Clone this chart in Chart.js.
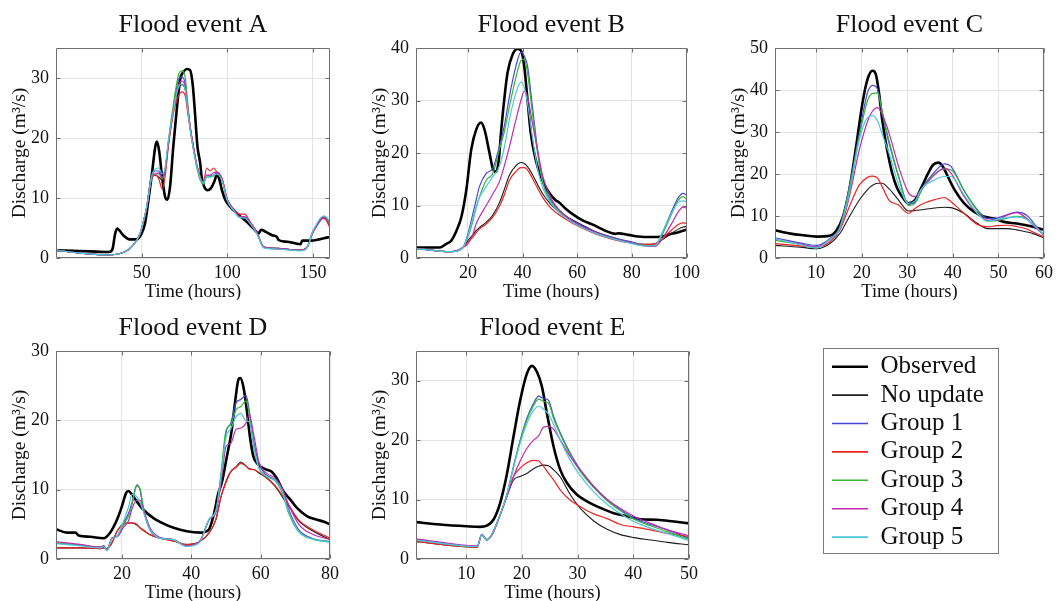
<!DOCTYPE html>
<html>
<head>
<meta charset="utf-8">
<script src="https://cdn.jsdelivr.net/npm/chart.js"></script>
<style>
  html, body { margin: 0; padding: 0; background: #ffffff; }
  body { width: 1057px; height: 601px; position: relative; overflow: hidden; }
  canvas { position: absolute; }
</style>
</head>
<body>
<canvas id="cA" width="345" height="300" style="left:0px;top:0px"></canvas>
<canvas id="cB" width="344" height="300" style="left:360px;top:0px"></canvas>
<canvas id="cC" width="338" height="300" style="left:719px;top:0px"></canvas>
<canvas id="cD" width="345" height="298" style="left:0px;top:303px"></canvas>
<canvas id="cE" width="344" height="298" style="left:360px;top:303px"></canvas>
<canvas id="cL" width="176" height="206" style="left:823px;top:348px"></canvas>
<script>
// ---------------- series labels ----------------
const seriesNames = ['Observed', 'No update', 'Group 1', 'Group 2', 'Group 3', 'Group 4', 'Group 5'];
const panelTitles = ['Flood event A', 'Flood event B', 'Flood event C', 'Flood event D', 'Flood event E'];
const xAxisTitle = 'Time (hours)';
const yAxisTitle = 'Discharge (m³/s)';

// ---------------- tick labels ----------------
const xTicksA = [50, 100, 150];
const yTicksA = [0, 10, 20, 30];
const xTicksB = [20, 40, 60, 80, 100];
const yTicksB = [0, 10, 20, 30, 40];
const xTicksC = [10, 20, 30, 40, 50, 60];
const yTicksC = [0, 10, 20, 30, 40, 50];
const xTicksD = [20, 40, 60, 80];
const yTicksD = [0, 10, 20, 30];
const xTicksE = [10, 20, 30, 40, 50];
const yTicksE = [0, 10, 20, 30];

// ---------------- Flood event A ----------------
const tA_obs = [0,10,20,31,33,34.5,35.7,37,39.3,43,47,50,52,54,56,58,59,60.4,61.7,63.7,65,66.6,68.5,70.5,72.5,74.4,76.4,78.3,79.9,81.3,82.6,84.2,85,86.5,88.5,90.4,92.4,94,95.5,96.9,98.8,101.8,105.7,111.5,115.4,118.4,119.7,122.3,126.2,129,130,135,138.9,142.8,143.8,148.6,153.5,156.4,160];
const obsA = [1.3,1.2,1.1,1.0,1.5,4.0,4.9,4.6,3.8,3.1,3.1,4.1,5.8,9.7,14,18.6,19.4,17.5,14.1,10.2,9.7,11.9,18.6,24.7,29.8,31,31.5,31.3,28.7,23.6,18.6,15.8,13.6,11.9,11.3,11.6,12.7,13.9,13,11.3,9.7,8.5,7.4,6.0,4.9,4.1,4.7,4.4,3.8,3.5,3.0,2.7,2.5,2.3,2.9,2.9,3.1,3.3,3.5];
const tA_sim = [0,15,30,40,45,49,51,53,56,58,60,62,63.7,65.6,68.5,71.5,73.5,75.5,77,78.3,80.3,82.2,84.2,86,88,90,92,94,97,100,103.7,107.6,110,113.5,117.4,121.3,129,142.8,146.7,149.6,152.5,154.5,156.4,158,160];
const nuA = [1.3,0.8,0.5,1.0,2.1,4.0,6.0,8.5,13.5,13.8,13.5,13.0,14.5,19.0,24.3,28.2,28.9,28,24.5,21.8,18.3,15.4,13.4,12.5,13.6,13.6,13.8,14.1,13,9.7,8.0,6.8,6.8,5.8,4.1,1.8,1.6,1.3,1.8,4.1,5.5,6.3,6.7,6.5,5.4];
const g1A = [1.3,0.8,0.5,1.0,2.1,4.0,6.0,8.5,13.6,14.5,14.5,13.5,14.7,19.2,24.7,29.8,30.2,29,25,22,18.5,15.5,13.5,12.5,13.7,13.6,13.8,14.1,13,9.7,8.0,6.8,6.8,5.8,4.1,1.8,1.6,1.3,1.8,4.1,5.5,6.3,6.8,6.5,5.5];
const g2A = [1.3,0.8,0.5,1.0,2.1,4.0,6.0,8.5,13.5,13.8,13.2,11.5,13.5,18.5,24,27,27.7,27,24,21.5,18,15.5,13.5,12.5,15.0,14.5,15.0,14.3,13.2,9.8,8.2,7.3,7.3,6.0,4.2,1.9,1.5,1.3,1.8,4.0,5.6,6.5,6.6,6.2,5.0];
const g3A = [1.3,0.8,0.5,1.0,2.1,4.0,6.0,8.5,13.6,14.0,14.0,13.2,14.5,19.5,25.5,30.5,31.2,30,25.5,22,18.2,15,13,12.3,13.5,13.5,13.7,14.0,13,9.6,8.0,6.8,6.8,5.8,4.1,1.8,1.6,1.3,1.8,4.2,5.7,6.6,7.0,6.6,5.6];
const g4A = [1.3,0.8,0.5,1.0,2.1,4.0,6.0,8.5,13.6,14.0,14.2,13.4,14.6,19.0,24.5,28.8,29.5,28.5,25,22,18.5,15.5,13.5,12.6,13.8,13.8,14.2,14.3,13.2,9.8,8.1,6.9,6.9,5.9,4.2,1.8,1.6,1.3,1.8,4.0,5.5,6.4,6.8,6.7,5.8];
const g5A = [1.3,0.8,0.5,1.0,2.1,4.0,6.0,8.6,13.8,14.8,15.0,14.0,15.0,19.5,24.5,28.5,29.0,28,24.5,21.5,18,15.3,13.3,12.5,13.6,13.5,13.8,14.0,12.9,9.6,7.9,6.7,6.7,5.7,4.0,1.7,1.5,1.2,1.7,4.2,5.8,6.7,7.0,6.8,6.0];

// ---------------- Flood event B ----------------
const tB_obs = [1,9.7,12.1,13.9,15.8,17.6,19.4,21.2,23,24.8,26.1,27.9,29.1,30.3,31.3,32.1,33.3,34.5,36.4,38.2,39.4,40.6,41.8,43,44.8,46.7,49.1,52.1,53.3,55.8,58.2,61.8,65.5,70.3,73.9,75.2,78.8,82.4,87.3,90.9,94.5,97,100];
const obsB = [2.0,2.0,2.7,3.3,5.2,7.8,12.9,20.6,24.4,25.8,24.4,20,17.1,16.4,18.7,23.8,30.2,35.3,38.8,39.8,39.5,36.6,30.2,23.8,18.7,15.5,12.9,11,10.6,9.4,8.4,7.2,6.4,5.2,4.6,4.7,4.4,4.1,4.0,4.1,4.6,4.9,5.4];
const tB_sim = [1,14,18.2,20,21.8,23,24.2,26.7,29.1,31.5,33.3,35.2,37.6,39.4,40.6,41.8,43.6,45.5,47.3,49.7,52.1,55.8,60.6,66.7,72.7,78.8,84.8,88.5,90.9,94.5,97,98.8,100];
const nuB = [1.8,1.2,2.0,3.3,4.4,5.2,5.8,6.8,8.2,10.5,13,15.8,17.6,18.2,18,17.4,15.9,14,12.3,10.6,9.3,8.0,6.6,5.0,3.9,3.1,2.6,2.7,3.4,4.7,5.5,5.9,6.0];
const g1B = [1.8,1.2,2.0,4.6,8.4,11,13.6,16.1,17.1,21.2,25.1,30.8,36.6,39.2,38.5,36.6,28.9,20.6,14.8,11.6,9.8,8.0,6.4,5.0,4.0,3.2,2.5,2.4,4.5,8.8,11.5,12.3,12.0];
const g2B = [1.8,1.2,2.0,3.0,4.0,4.8,5.5,6.5,7.8,9.8,12,14.8,16.5,17.2,17.2,16.8,15.2,13.3,11.6,9.9,8.7,7.4,6.0,4.6,3.6,2.9,2.6,2.7,3.6,5.3,6.4,6.7,6.6];
const g3B = [1.8,1.2,2.0,4.0,7.0,9.5,11.6,14.8,16.1,20.6,24,28.9,34.5,37.6,37.9,35.3,27.6,20,14.5,11.3,9.5,7.8,6.2,4.8,3.8,3.0,2.4,2.3,4.2,8.3,11,11.7,11.2];
const g4B = [1.8,1.2,2.0,2.7,4.5,6.5,7.8,10,12.2,14.5,17.5,21.2,26.4,30,31.8,30.8,25.7,20.5,15.8,12.2,10,8.0,6.3,4.9,3.8,3.0,2.3,2.2,3.5,6.5,8.8,9.7,9.5];
const g5B = [1.8,1.2,2.0,4.3,7.5,9.7,11.5,13.6,15.5,17.5,21,26.4,31.5,33.5,32.5,29.5,23,17,13.5,11,9.3,7.6,6.1,4.7,3.7,2.9,2.3,2.3,4.6,8.5,10.6,10.9,10.7];

// ---------------- Flood event C ----------------
const tC_obs = [1,4.4,7.3,10.1,13,14.5,15.9,17.3,18.8,20.2,21.3,22.4,23.1,23.8,24.5,25.6,26.7,27.8,28.9,30.3,31.7,33.2,34.6,35.7,36.8,37.8,38.9,40.4,42.5,44.7,46.8,49,51.2,54,56.9,60];
const obsC = [6.6,5.8,5.4,5.1,5.3,6.6,9.8,16.2,26.6,37,42.6,44.6,43.8,39.4,33,25.8,20.2,16.6,14.6,13,13.8,17,20.2,22.2,22.7,21.8,19.4,16.2,13,11,9.9,9.4,8.6,8.2,7.6,6.7];
const tC_sim = [1,6.5,10.1,13,15.2,17.3,19.5,21.3,22.4,23.5,24.5,26,28.1,30.3,31.7,33.2,36,38.2,39.6,42.5,45.4,47.6,49.7,51.9,54,56.2,57.6,60];
const nuC = [3.0,2.6,2.2,3.4,5.8,9.8,13.8,16.3,17.3,17.8,17.8,16.5,13.8,11.2,11.3,11.5,11.9,12.1,12,10.6,8.2,7.0,7.0,7.0,6.7,6.2,5.8,4.8];
const g1C = [4.8,3.6,3.0,4.6,7.4,17,29.8,39.4,41.1,40.2,34.6,27.4,19.4,12.8,13.2,16.5,20.5,22.4,21.8,16,11.5,9.4,9.5,10.3,10.9,10.2,8.5,5.2];
const g2C = [3.4,2.9,2.6,3.8,6.6,12.2,17.4,19.2,19.5,19.0,17,13.8,12.6,10.6,11.8,12.8,13.9,14.4,13.4,10.6,8.0,7.4,7.7,7.8,7.5,6.9,6.2,5.0];
const g3C = [4.2,3.3,2.6,4.4,7.2,16.5,29,37.5,39.2,39.3,35,28,19.5,12.5,13.0,16.2,20,21.2,21,16,11.2,8.8,8.9,9.5,9.9,9.4,8.0,5.6];
const g4C = [4.6,3.4,2.6,4.4,6.8,14.6,25.8,32.5,35,35.8,34.2,29.8,21.8,15.5,14.6,16.5,19.8,21.4,20.2,14.6,10.6,9,9,10.2,10.8,9.4,7.8,5.4];
const g5C = [4.6,3.2,2.4,4.4,7.0,15.4,28.2,33.4,33.9,32.6,29.5,25,17.5,13,13.6,16.6,18.6,19.4,19.4,15,10.6,8.8,9.2,9.6,9.8,9.2,8.0,5.4];

// ---------------- Flood event D ----------------
const tD_obs = [1,4.2,6.6,7.5,10.9,14.7,16.6,18.6,20,21.2,21.9,22.9,24.3,26.2,29.1,32,34.9,38.7,42.6,45,46.4,47.8,48.8,50.2,51.7,52.6,53.6,54.1,55,56,56.9,57.9,59.3,61.7,63.2,64.6,66.5,68.5,70.4,73.3,76.1,78.1,80];
const obsD = [4.3,3.8,3.8,3.4,3.2,3.0,3.8,5.7,7.6,9.5,9.8,9.3,8.3,7.1,5.9,5.1,4.5,4.0,3.8,4.2,6.2,9.5,11,14.6,18.7,22.5,25.9,26.1,24.9,21.5,17.7,14.8,13.6,12.9,12.6,11.7,9.8,8.6,7.4,6.2,5.7,5.4,5.0];
const tD_sim = [1,8,13.8,14.7,15.7,17.1,18.6,20.5,21.9,22.9,24.3,25.2,26.2,28.1,31,34.8,38.6,42.4,45.2,47.1,48.6,50,51.4,52.9,54.3,55.8,56.7,58.1,59.5,61.4,64.3,66.2,68.1,71,74.8,80];
const nuD = [1.6,1.6,1.5,1.6,1.5,2.3,4.0,5.1,5.2,5.2,4.9,4.5,4.1,3.5,3.0,2.6,2.1,2.5,3.8,5.7,9,11.2,12.6,13.3,14.0,13.4,13.0,12.9,12.4,11.8,10.4,9.0,7.6,5.5,4.1,2.8];
const g1D = [2.3,2.0,1.7,1.9,1.3,3.0,3.3,5.2,6.6,8.1,10.7,10,7.1,4.2,3.0,2.8,1.9,2.5,5.7,6.9,11.9,18.2,19.6,22.5,23,23.6,21.5,16.7,13.8,12.2,11.4,10,7.1,4.2,3.0,2.5];
const g2D = [1.6,1.6,1.5,1.6,1.5,2.3,4.0,5.0,5.2,5.2,5.0,4.5,4.2,3.5,3.0,2.6,2.1,2.5,3.8,5.7,9,11,12.6,13.2,13.8,13.4,13.0,12.9,12.5,11.9,10.5,9.2,7.8,5.6,4.3,3.0];
const g3D = [2.3,2.0,1.7,1.9,1.3,3.0,3.3,5.0,6.2,7.8,10.5,10.2,7.5,4.3,3.0,2.8,1.9,2.5,5.7,6.9,12.5,18.5,19.4,21.5,22,22.8,21,16,13.2,12,11.2,9.6,6.6,3.9,2.9,2.5];
const g4D = [2.5,2.1,1.7,1.9,1.3,3.0,3.2,4.6,5.5,7.2,8.5,8.5,7.1,4.5,3.1,2.8,1.9,2.5,5.7,6.7,11,16.2,16.7,18.7,18.9,19.6,20.8,17.7,14,12.5,11.6,10.2,7.8,5,3.6,2.8];
const g5D = [2.2,1.9,1.6,1.8,1.2,2.9,3.3,5.5,7.5,9.3,9.0,8.2,6.8,4.3,3.0,2.8,1.8,2.4,5.8,7.0,12,17.5,18.8,20.5,21,19.9,19.8,16,13,12,11.3,9.8,6.8,4.0,2.9,2.4];

// ---------------- Flood event E ----------------
const tE_obs = [1,5.3,10.1,12.5,13.7,14.9,16.1,17.3,18.5,19.7,20.9,21.8,22.7,23.6,24.5,25.7,26.9,28.1,29.9,31.7,34.1,36.5,38.9,41.3,44.3,47.3,50];
const obsE = [6.2,5.8,5.5,5.4,5.6,6.6,9.4,14.2,20.6,26.7,31.2,32.5,31.5,29,24.5,18.9,15,12.8,10.8,9.7,8.6,7.7,7.2,6.7,6.6,6.3,6.0];
const tE_sim = [1,12,12.8,13.7,14.6,15.5,17.3,18.5,19.7,20.9,22.1,23,23.9,24.8,25.7,26.9,28.7,30.5,32.9,35.3,37.7,40.1,43.1,46.1,50];
const nuE = [2.9,2.0,4.1,3.2,4.0,5.9,10.5,13.3,13.9,14.4,15.2,15.6,15.8,15.7,15,13.8,10.8,8.5,6.4,5.0,4.1,3.6,3.2,2.8,2.4];
const g1E = [3.2,2.1,4.1,3.2,4.1,6.0,10.8,15.6,20,23.7,26.2,27.4,27.0,26.7,24,21.2,17.8,15,12.2,10,8.3,6.9,5.8,4.9,3.5];
const g2E = [2.9,2.0,4.1,3.2,4.0,5.9,10.5,13.9,15.3,16.2,16.6,16.5,15.6,14.4,13.3,11.6,9.9,8.8,7.6,6.8,5.8,5.4,4.9,4.3,3.8];
const g3E = [3.2,2.1,4.1,3.2,4.1,6.0,10.8,15.5,19.8,23.4,25.8,26.9,26.5,26.2,23.6,21,17.5,14.7,12,9.8,8.1,6.7,5.6,4.6,3.3];
const g4E = [3.4,2.2,4.2,3.3,4.1,6.0,10.5,13.9,16.5,18.6,20,20.7,22.2,22.3,21.8,20,17.2,15,12.2,10,8.5,7.2,6.0,4.9,3.9];
const g5E = [3.2,2.1,4.1,3.2,4.1,6.0,10.8,15.4,19.5,22.8,25,25.7,25.2,24.4,22.6,20,16.6,14,11.3,9.2,7.6,6.3,5.2,4.3,3.1];

// ---------------- styles (kept apart from the data) ----------------
const SERIF = "'Liberation Serif', 'DejaVu Serif', serif";
const seriesColors = ['#000000', '#1c1c1c', '#4848dc', '#ee2222', '#33b833', '#c02ab0', '#4cc6e0'];
const seriesWidths = [2.6, 1.1, 1.2, 1.2, 1.2, 1.2, 1.2];
const legendWidths = [2.6, 1.6, 1.6, 1.6, 1.6, 1.6, 1.6];
const TEXT = '#111111';

const panels = [
  { id: 'cA', title: panelTitles[0], xMin: 0, xMax: 160, yMax: 35, xTicks: xTicksA, yTicks: yTicksA,
    obsT: tA_obs, obs: obsA, simT: tA_sim, sims: [nuA, g1A, g2A, g3A, g4A, g5A], padRight: 15 },
  { id: 'cB', title: panelTitles[1], xMin: 1, xMax: 100, yMax: 40, xTicks: xTicksB, yTicks: yTicksB,
    obsT: tB_obs, obs: obsB, simT: tB_sim, sims: [nuB, g1B, g2B, g3B, g4B, g5B], padRight: 15 },
  { id: 'cC', title: panelTitles[2], xMin: 1, xMax: 60, yMax: 50, xTicks: xTicksC, yTicks: yTicksC,
    obsT: tC_obs, obs: obsC, simT: tC_sim, sims: [nuC, g1C, g2C, g3C, g4C, g5C], padRight: 9 },
  { id: 'cD', title: panelTitles[3], xMin: 1, xMax: 80, yMax: 30, xTicks: xTicksD, yTicks: yTicksD,
    obsT: tD_obs, obs: obsD, simT: tD_sim, sims: [nuD, g1D, g2D, g3D, g4D, g5D], padRight: 15 },
  { id: 'cE', title: panelTitles[4], xMin: 1, xMax: 50, yMax: 35, xTicks: xTicksE, yTicks: yTicksE,
    obsT: tE_obs, obs: obsE, simT: tE_sim, sims: [nuE, g1E, g2E, g3E, g4E, g5E], padRight: 15 }
];

function pts(t, v) { return t.map((x, i) => ({ x: x, y: v[i] })); }

// axes box with MATLAB-like inward tick marks
const framePlugin = {
  id: 'frame',
  afterDatasetsDraw(chart) {
    const { ctx, chartArea: a, scales } = chart;
    const xs = scales.x, ys = scales.y;
    const L = Math.round(a.left) + 0.5, R = Math.round(a.right) - 0.5;
    const T = Math.round(a.top) + 0.5, B = Math.round(a.bottom) - 0.5;
    ctx.save();
    ctx.strokeStyle = '#6f6f6f';
    ctx.lineWidth = 1;
    ctx.beginPath();
    ctx.rect(L, T, R - L, B - T);
    xs.ticks.forEach(tk => {
      const p = Math.round(xs.getPixelForValue(tk.value)) + 0.5;
      ctx.moveTo(p, B); ctx.lineTo(p, B - 4);
      ctx.moveTo(p, T); ctx.lineTo(p, T + 4);
    });
    ys.ticks.forEach(tk => {
      const p = Math.round(ys.getPixelForValue(tk.value)) + 0.5;
      ctx.moveTo(L, p); ctx.lineTo(L + 4, p);
      ctx.moveTo(R, p); ctx.lineTo(R - 4, p);
    });
    ctx.stroke();
    ctx.restore();
  }
};

panels.forEach(p => {
  const datasets = [];
  datasets.push({ label: seriesNames[0], data: pts(p.obsT, p.obs) });
  p.sims.forEach((s, i) => datasets.push({ label: seriesNames[i + 1], data: pts(p.simT, s) }));
  datasets.forEach((d, i) => {
    d.borderColor = seriesColors[i];
    d.backgroundColor = seriesColors[i];
    d.borderWidth = seriesWidths[i];
    d.pointRadius = 0;
    d.fill = false;
    d.order = datasets.length - i; // observed drawn first (underneath)
  });

  new Chart(document.getElementById(p.id), {
    type: 'line',
    data: { datasets: datasets },
    options: {
      responsive: false,
      animation: false,
      events: [],
      layout: { padding: { left: 0, right: p.padRight, top: 0, bottom: 0 } },
      elements: { line: { tension: 0.4, cubicInterpolationMode: 'monotone', borderJoinStyle: 'round' } },
      plugins: {
        legend: { display: false },
        tooltip: { enabled: false },
        title: {
          display: true, text: p.title, color: TEXT, fullSize: false,
          font: { family: SERIF, size: 26, weight: 'normal', lineHeight: 1.2 },
          padding: { top: 9.6, bottom: 7.2 }
        }
      },
      scales: {
        x: {
          type: 'linear', min: p.xMin, max: p.xMax,
          afterBuildTicks: s => { s.ticks = p.xTicks.map(v => ({ value: v })); },
          afterFit: s => { s.height = 42; },
          grid: { color: '#e4e4e4', lineWidth: 1, drawTicks: false },
          border: { display: false },
          ticks: { color: TEXT, font: { family: SERIF, size: 18 }, padding: 4, maxRotation: 0, autoSkip: false },
          title: { display: true, text: xAxisTitle, color: TEXT,
                   font: { family: SERIF, size: 18.5, lineHeight: 0.9 }, padding: { top: 0, bottom: 0 } }
        },
        y: {
          type: 'linear', min: 0, max: p.yMax,
          afterBuildTicks: s => { s.ticks = p.yTicks.map(v => ({ value: v })); },
          afterFit: s => { s.width = 56; },
          grid: { color: '#e4e4e4', lineWidth: 1, drawTicks: false },
          border: { display: false },
          ticks: { color: TEXT, font: { family: SERIF, size: 18 }, padding: 7, autoSkip: false },
          title: { display: true, text: yAxisTitle, color: TEXT,
                   font: { family: SERIF, size: 19.5, lineHeight: 1.2 }, padding: { top: 8.5, bottom: 0 } }
        }
      }
    },
    plugins: [framePlugin]
  });
});

// ---------------- legend panel ----------------
const legendBoxPlugin = {
  id: 'legendBox',
  afterDraw(chart) {
    const { ctx, width, height } = chart;
    ctx.save();
    ctx.strokeStyle = '#7a7a7a';
    ctx.lineWidth = 1;
    ctx.strokeRect(0.5, 0.5, width - 1, height - 1);
    ctx.restore();
  }
};

new Chart(document.getElementById('cL'), {
  type: 'line',
  data: {
    datasets: seriesNames.map((n, i) => ({
      label: n, data: [],
      borderColor: seriesColors[i], backgroundColor: seriesColors[i],
      borderWidth: legendWidths[i],
      pointBorderColor: seriesColors[i], pointBorderWidth: legendWidths[i]
    }))
  },
  options: {
    responsive: false,
    animation: false,
    events: [],
    layout: { padding: { left: 5.6, top: 2.8, right: 0, bottom: 0 } },
    scales: { x: { display: false }, y: { display: false } },
    plugins: {
      tooltip: { enabled: false },
      title: { display: false },
      legend: {
        display: true, position: 'top', align: 'start', maxHeight: 206,
        labels: {
          usePointStyle: true, pointStyle: 'line', pointStyleWidth: 36,
          color: TEXT, font: { family: SERIF, size: 25 }, padding: 3.4,
          generateLabels: chart => Chart.defaults.plugins.legend.labels.generateLabels(chart).map((it, i) =>
            Object.assign({}, it, { strokeStyle: seriesColors[i], fillStyle: seriesColors[i], lineWidth: legendWidths[i] }))
        }
      }
    }
  },
  plugins: [legendBoxPlugin]
});
</script>
</body>
</html>
